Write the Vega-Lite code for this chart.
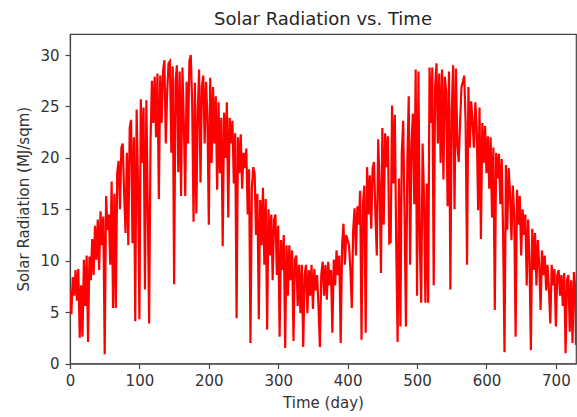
{
  "$schema": "https://vega.github.io/schema/vega-lite/v6.json",
  "width": 506,
  "height": 329.5,
  "autosize": {"type": "none"},
  "padding": {"left": 70, "top": 34, "right": 1, "bottom": 53.5},
  "background": "white",
  "title": {"text": "Solar Radiation vs. Time", "font": "DejaVu Sans", "fontSize": 18, "fontWeight": "normal", "color": "#262626", "offset": 5},
  "data": {"values": [
{"d":0,"r":7.2},{"d":2,"r":4.8},{"d":4,"r":8.4},{"d":6,"r":6.6},{"d":8,"r":9.1},{"d":10,"r":6.1},{"d":12,"r":9.2},{"d":14,"r":2.5},{"d":16,"r":7.6},{"d":18,"r":2.6},
{"d":20,"r":10.1},{"d":22,"r":5.6},{"d":24,"r":10.5},{"d":26,"r":2.1},{"d":28,"r":10.4},{"d":30,"r":8.1},{"d":32,"r":12.1},{"d":34,"r":8.6},{"d":36,"r":13.4},{"d":38,"r":10.1},
{"d":40,"r":14.0},{"d":42,"r":9.1},{"d":44,"r":14.8},{"d":46,"r":11.5},{"d":48,"r":14.3},{"d":50,"r":0.9},{"d":52,"r":16.3},{"d":54,"r":13.0},{"d":56,"r":14.5},{"d":58,"r":9.6},
{"d":60,"r":17.7},{"d":62,"r":5.4},{"d":64,"r":16.5},{"d":66,"r":5.4},{"d":68,"r":18.5},{"d":70,"r":19.7},{"d":72,"r":15.0},{"d":74,"r":21.0},{"d":76,"r":21.4},{"d":78,"r":16.5},
{"d":80,"r":12.7},{"d":82,"r":20.5},{"d":84,"r":11.5},{"d":86,"r":22.9},{"d":88,"r":23.7},{"d":90,"r":11.7},{"d":92,"r":22.0},{"d":94,"r":4.1},{"d":96,"r":24.7},{"d":98,"r":17.5},
{"d":100,"r":4.3},{"d":102,"r":25.7},{"d":104,"r":19.5},{"d":106,"r":24.9},{"d":108,"r":7.2},{"d":110,"r":25.6},{"d":112,"r":15.5},{"d":114,"r":3.9},{"d":116,"r":21.4},{"d":118,"r":27.5},
{"d":120,"r":23.4},{"d":122,"r":27.9},{"d":124,"r":22.0},{"d":126,"r":28.2},{"d":128,"r":16.0},{"d":130,"r":28.0},{"d":132,"r":23.4},{"d":134,"r":28.4},{"d":136,"r":29.5},{"d":138,"r":21.4},
{"d":140,"r":26.4},{"d":142,"r":29.2},{"d":144,"r":29.4},{"d":146,"r":20.5},{"d":148,"r":28.9},{"d":150,"r":7.7},{"d":152,"r":27.4},{"d":154,"r":29.0},{"d":156,"r":18.6},{"d":158,"r":28.4},
{"d":160,"r":16.3},{"d":162,"r":28.8},{"d":164,"r":23.4},{"d":166,"r":16.3},{"d":168,"r":27.4},{"d":170,"r":21.4},{"d":172,"r":29.4},{"d":174,"r":30.0},{"d":176,"r":25.4},{"d":178,"r":13.8},
{"d":180,"r":27.3},{"d":182,"r":14.6},{"d":184,"r":24.4},{"d":186,"r":28.6},{"d":188,"r":17.6},{"d":190,"r":26.9},{"d":192,"r":28.0},{"d":194,"r":21.4},{"d":196,"r":27.4},{"d":198,"r":23.9},
{"d":200,"r":13.5},{"d":202,"r":27.8},{"d":204,"r":19.5},{"d":206,"r":26.9},{"d":208,"r":21.4},{"d":210,"r":26.0},{"d":212,"r":16.9},{"d":214,"r":25.4},{"d":216,"r":18.5},{"d":218,"r":23.9},
{"d":220,"r":11.4},{"d":222,"r":24.4},{"d":224,"r":20.0},{"d":226,"r":25.4},{"d":228,"r":14.2},{"d":230,"r":23.9},{"d":232,"r":21.4},{"d":234,"r":23.6},{"d":236,"r":17.5},{"d":238,"r":22.4},
{"d":240,"r":4.4},{"d":242,"r":22.0},{"d":244,"r":18.5},{"d":246,"r":22.3},{"d":248,"r":17.0},{"d":250,"r":20.5},{"d":252,"r":19.0},{"d":254,"r":20.9},{"d":256,"r":14.5},{"d":258,"r":18.9},
{"d":260,"r":2.0},{"d":262,"r":17.0},{"d":264,"r":19.1},{"d":266,"r":18.5},{"d":268,"r":12.5},{"d":270,"r":16.5},{"d":272,"r":4.3},{"d":274,"r":15.9},{"d":276,"r":11.5},{"d":278,"r":17.1},
{"d":280,"r":9.6},{"d":282,"r":16.0},{"d":284,"r":3.3},{"d":286,"r":15.0},{"d":288,"r":10.5},{"d":290,"r":14.5},{"d":292,"r":8.1},{"d":294,"r":14.0},{"d":296,"r":14.5},{"d":298,"r":8.6},
{"d":300,"r":13.4},{"d":302,"r":2.6},{"d":304,"r":12.0},{"d":306,"r":9.1},{"d":308,"r":12.5},{"d":310,"r":1.5},{"d":312,"r":11.5},{"d":314,"r":6.6},{"d":316,"r":11.5},{"d":318,"r":8.1},
{"d":320,"r":11.0},{"d":322,"r":2.2},{"d":324,"r":10.1},{"d":326,"r":10.5},{"d":328,"r":5.6},{"d":330,"r":9.6},{"d":332,"r":4.9},{"d":334,"r":9.6},{"d":336,"r":1.6},{"d":338,"r":8.6},
{"d":340,"r":9.6},{"d":342,"r":4.9},{"d":344,"r":9.1},{"d":346,"r":6.6},{"d":348,"r":9.6},{"d":350,"r":5.3},{"d":352,"r":9.2},{"d":354,"r":7.1},{"d":356,"r":8.6},{"d":358,"r":5.6},
{"d":360,"r":1.6},{"d":362,"r":8.6},{"d":364,"r":9.9},{"d":366,"r":6.6},{"d":368,"r":9.6},{"d":370,"r":6.2},{"d":372,"r":9.9},{"d":374,"r":7.6},{"d":376,"r":9.1},{"d":378,"r":3.0},
{"d":380,"r":10.1},{"d":382,"r":7.6},{"d":384,"r":11.0},{"d":386,"r":8.6},{"d":388,"r":10.5},{"d":390,"r":2.0},{"d":392,"r":11.5},{"d":394,"r":13.6},{"d":396,"r":9.6},{"d":398,"r":12.5},
{"d":400,"r":12.0},{"d":402,"r":11.5},{"d":404,"r":9.1},{"d":406,"r":5.4},{"d":408,"r":13.0},{"d":410,"r":15.1},{"d":412,"r":10.5},{"d":414,"r":15.3},{"d":416,"r":13.5},{"d":418,"r":16.8},
{"d":420,"r":2.3},{"d":422,"r":15.5},{"d":424,"r":17.3},{"d":426,"r":3.0},{"d":428,"r":19.1},{"d":430,"r":14.5},{"d":432,"r":18.3},{"d":434,"r":13.1},{"d":436,"r":19.0},{"d":438,"r":19.6},
{"d":440,"r":14.5},{"d":442,"r":10.5},{"d":444,"r":21.8},{"d":446,"r":17.5},{"d":448,"r":8.8},{"d":450,"r":22.9},{"d":452,"r":13.5},{"d":454,"r":22.4},{"d":456,"r":19.1},{"d":458,"r":22.1},
{"d":460,"r":11.7},{"d":462,"r":11.8},{"d":464,"r":25.1},{"d":466,"r":17.5},{"d":468,"r":24.2},{"d":470,"r":11.5},{"d":472,"r":2.1},{"d":474,"r":18.0},{"d":476,"r":3.6},{"d":478,"r":20.5},
{"d":480,"r":23.6},{"d":482,"r":14.5},{"d":484,"r":3.6},{"d":486,"r":19.5},{"d":488,"r":26.0},{"d":490,"r":9.6},{"d":492,"r":21.4},{"d":494,"r":24.3},{"d":496,"r":15.5},{"d":498,"r":28.6},
{"d":500,"r":6.6},{"d":502,"r":28.4},{"d":504,"r":11.5},{"d":506,"r":5.9},{"d":508,"r":21.4},{"d":510,"r":16.3},{"d":512,"r":5.9},{"d":514,"r":17.5},{"d":516,"r":5.9},{"d":518,"r":28.8},
{"d":520,"r":23.4},{"d":522,"r":28.8},{"d":524,"r":7.6},{"d":526,"r":26.9},{"d":528,"r":29.2},{"d":530,"r":21.4},{"d":532,"r":28.2},{"d":534,"r":19.5},{"d":536,"r":28.6},{"d":538,"r":17.9},
{"d":540,"r":27.9},{"d":542,"r":26.4},{"d":544,"r":15.3},{"d":546,"r":28.4},{"d":548,"r":7.2},{"d":550,"r":24.7},{"d":552,"r":29.0},{"d":554,"r":15.0},{"d":556,"r":28.7},{"d":558,"r":21.4},
{"d":560,"r":19.6},{"d":562,"r":23.4},{"d":564,"r":26.9},{"d":566,"r":27.4},{"d":568,"r":28.0},{"d":570,"r":23.4},{"d":572,"r":9.6},{"d":574,"r":26.9},{"d":576,"r":21.0},{"d":578,"r":25.5},
{"d":580,"r":23.4},{"d":582,"r":21.0},{"d":584,"r":25.4},{"d":586,"r":22.9},{"d":588,"r":14.9},{"d":590,"r":24.9},{"d":592,"r":12.1},{"d":594,"r":23.4},{"d":596,"r":19.5},{"d":598,"r":23.1},
{"d":600,"r":18.5},{"d":602,"r":22.1},{"d":604,"r":17.0},{"d":606,"r":22.0},{"d":608,"r":14.2},{"d":610,"r":21.0},{"d":612,"r":5.2},{"d":614,"r":20.5},{"d":616,"r":18.0},{"d":618,"r":20.4},
{"d":620,"r":15.5},{"d":622,"r":19.9},{"d":624,"r":12.5},{"d":626,"r":1.1},{"d":628,"r":19.3},{"d":630,"r":13.0},{"d":632,"r":19.0},{"d":634,"r":16.5},{"d":636,"r":12.0},{"d":638,"r":17.3},
{"d":640,"r":14.5},{"d":642,"r":2.6},{"d":644,"r":16.9},{"d":646,"r":13.5},{"d":648,"r":16.3},{"d":650,"r":10.5},{"d":652,"r":15.0},{"d":654,"r":12.5},{"d":656,"r":14.5},{"d":658,"r":7.6},
{"d":660,"r":14.0},{"d":662,"r":10.1},{"d":664,"r":1.3},{"d":666,"r":13.1},{"d":668,"r":9.1},{"d":670,"r":12.7},{"d":672,"r":7.6},{"d":674,"r":12.0},{"d":676,"r":9.6},{"d":678,"r":5.2},
{"d":680,"r":11.0},{"d":682,"r":8.6},{"d":684,"r":10.5},{"d":686,"r":7.1},{"d":688,"r":9.6},{"d":690,"r":7.1},{"d":692,"r":3.9},{"d":694,"r":9.6},{"d":696,"r":7.6},{"d":698,"r":9.2},
{"d":700,"r":3.6},{"d":702,"r":8.6},{"d":704,"r":9.1},{"d":706,"r":6.6},{"d":708,"r":8.6},{"d":710,"r":5.6},{"d":712,"r":8.8},{"d":714,"r":1.0},{"d":716,"r":8.1},{"d":718,"r":8.6},
{"d":720,"r":3.1},{"d":722,"r":8.1},{"d":724,"r":2.0},{"d":726,"r":8.9},{"d":728,"r":7.2},{"d":729,"r":1.8}
  ]},
  "mark": {"type": "line", "color": "#ff0000", "strokeWidth": 2.2, "clip": true},
  "encoding": {
    "x": {"field": "d", "type": "quantitative", "title": "Time (day)",
      "scale": {"domain": [0, 729], "nice": false, "zero": false},
      "axis": {"values": [0,100,200,300,400,500,600,700], "format": "d"}},
    "y": {"field": "r", "type": "quantitative", "title": "Solar Radiation (MJ/sqm)",
      "scale": {"domain": [0, 32.05], "nice": false},
      "axis": {"values": [0,5,10,15,20,25,30], "format": "d"}}
  },
  "config": {
    "view": {"stroke": "#444444", "strokeWidth": 1.2},
    "axis": {
      "grid": false,
      "domainColor": "#444444",
      "domainWidth": 1.2,
      "tickColor": "#444444",
      "tickWidth": 1.2,
      "tickSize": 5,
      "labelFont": "DejaVu Sans",
      "labelFontSize": 15,
      "labelColor": "#333333",
      "labelPadding": 5,
      "titleFont": "DejaVu Sans",
      "titleFontSize": 15,
      "titleFontWeight": "normal",
      "titleColor": "#333333",
      "labelFlush": false,
      "labelOverlap": false
    },
    "axisX": {"titlePadding": 7},
    "axisY": {"titlePadding": 8, "labelPadding": 6}
  }
}
